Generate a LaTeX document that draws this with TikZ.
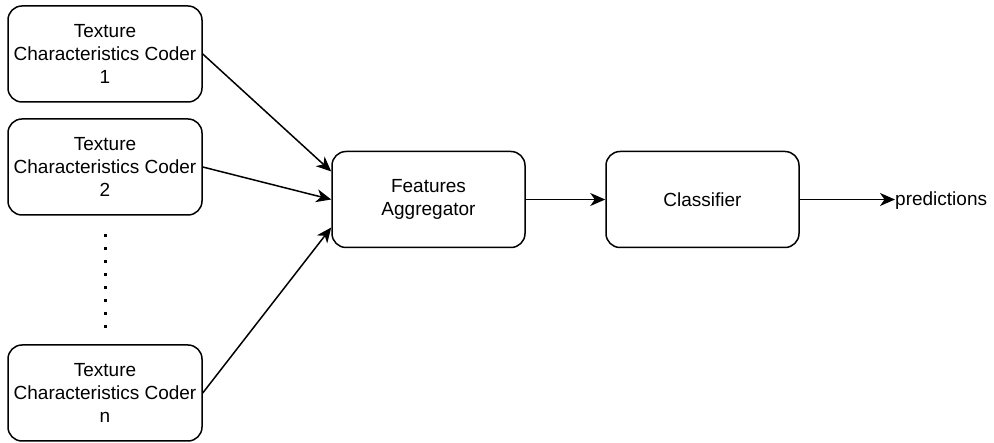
\documentclass[tikz,border=0pt]{standalone}
\usepackage{fontspec}
\setmainfont{Liberation Sans}
\usetikzlibrary{arrows.meta}
\begin{document}
\begin{tikzpicture}[x=1pt,y=-1pt,
 box/.style={draw, line width=1.5pt, rounded corners=14pt, minimum width=194pt, minimum height=96pt, align=center, inner sep=0pt, font=\fontsize{19}{23}\selectfont},
 lbl/.style={inner sep=0pt, font=\fontsize{19}{23}\selectfont},
 arr/.style={-{Stealth[length=15pt,width=13pt,inset=4.5pt]}, line width=1.5pt}]
\useasboundingbox (0,0) rectangle (994,443);
\node[box] (c1) at (105,54) {Texture\\Characteristics Coder\\1};
\node[box] (c2) at (105,167) {Texture\\Characteristics Coder\\2};
\node[box] (cn) at (105,393) {Texture\\Characteristics Coder\\n};
\node[box, minimum width=193pt] (agg) at (428.5,199.5) {Features\\Aggregator};
\node[box, minimum width=193pt] (cls) at (702.5,199.5) {Classifier};
\node[lbl, anchor=base west] (pred) at (895,206) {predictions};
\coordinate (a1) at ([yshift=28pt]agg.west);
\coordinate (an) at ([yshift=-28pt]agg.west);
\draw[arr] (c1.east) -- (a1);
\draw[arr] (c2.east) -- (agg.west);
\draw[arr] (cn.east) -- (an);
\draw[arr] (agg.east) -- (cls.west);
\draw[arr] (cls.east) -- (cls.east -| pred.west);
\foreach \i in {0,...,7} \fill (103.5,234.5+13*\i) rectangle ++(3,3);
\end{tikzpicture}
\end{document}
